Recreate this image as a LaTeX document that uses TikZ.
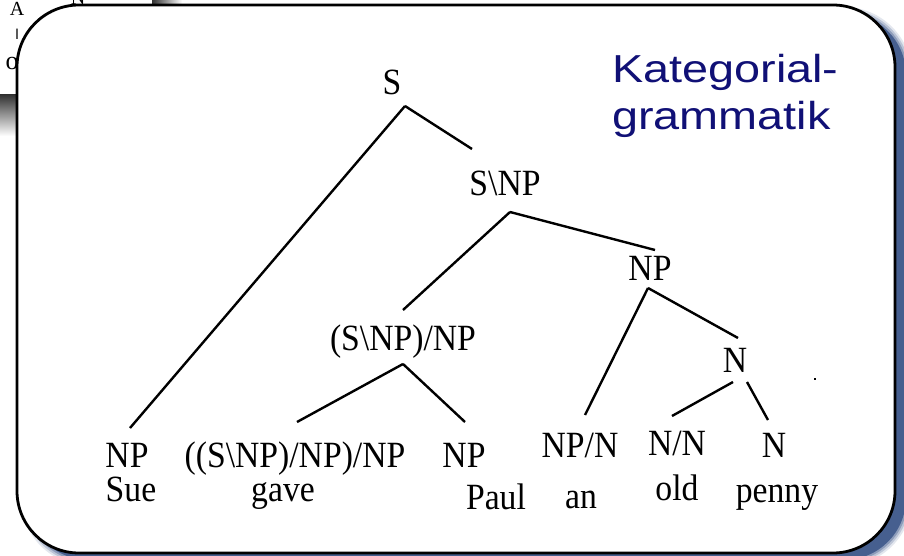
\documentclass[tikz,border=0pt]{standalone}
\usepackage{fontspec}
\setmainfont{Liberation Serif}
\newfontfamily\catfont[FakeStretch=0.91]{Liberation Serif}
\newfontfamily\titlefont[FakeStretch=1.2]{Liberation Sans}
\usetikzlibrary{calc}
\definecolor{titleblue}{RGB}{16,16,118}
\definecolor{shadowblue}{RGB}{70,95,143}

\begin{document}
\begin{tikzpicture}[x=1pt,y=-1pt]
  \tikzstyle{cat}=[inner sep=0pt,anchor=base,font=\catfont\fontsize{37}{40}\selectfont]
  \tikzstyle{word}=[cat]
  \tikzstyle{branch}=[line width=2.4pt]
  \tikzstyle{scrap}=[inner sep=0pt,anchor=base,font=\fontsize{20}{20}\selectfont]
  \useasboundingbox (0,0) rectangle (904,556);
  % pieces of the slide behind
  \shade[top color=black!80,bottom color=white] (0,95) rectangle (17,136);
  \shade[left color=black!80,right color=white] (152,-2) rectangle (182,5);
  \node[scrap] (scrapa) at (17,16) {A};
  \node[scrap] (scrapn) at (78,5) {N};
  \node[scrap,font=\sffamily\fontsize{15}{15}\selectfont] (scrapi) at (17,40) {I};
  \node[scrap,font=\fontsize{26}{26}\selectfont] (scrapo) at (12,70) {o};
  % shadow and card
  \foreach \r/\o in {6/0.15,4/0.25,2/0.4,0/1} {
    \fill[shadowblue,opacity=\o,rounded corners=62+\r]
      (27-\r,13-\r) rectangle (906+\r,560+\r);
  }
  \draw[line width=2.8pt,fill=white,rounded corners=62] (17,5) rectangle (895,553);
  \node[anchor=base west,align=left,text=titleblue,
        font=\titlefont\fontsize{39}{47}\selectfont,inner sep=0pt] (title)
        at (612,130) {Kategorial-\\grammatik};
  % categories
  \node[cat] (s) at (392,95) {S};
  \node[cat] (snp) at (505,195) {S\textbackslash NP};
  \node[cat] (np) at (650,280) {NP};
  \node[cat] (tv) at (403,350) {(S\textbackslash NP)/NP};
  \node[cat] (n) at (735,372) {N};
  \node[cat] (catsue) at (127,467) {NP};
  \node[cat] (catgave) at (295,467) {((S\textbackslash NP)/NP)/NP};
  \node[cat] (catpaul) at (464,467) {NP};
  \node[cat] (catan) at (580,457) {NP/N};
  \node[cat] (catold) at (677,455) {N/N};
  \node[cat] (catpenny) at (774,457) {N};
  % words
  \node[word] (sue) at (131,501) {Sue};
  \node[word] (gave) at (283,501) {gave};
  \node[word] (paul) at (496,509) {Paul};
  \node[word] (an) at (581,508) {an};
  \node[word] (old) at (677,500) {old};
  \node[word] (penny) at (777,502) {penny};
  % branches
  \draw[branch] ($(s.base)+(13,11)$) -- ($(catsue.base)+(3,-39)$);
  \draw[branch] ($(s.base)+(13,11)$) -- ($(snp.base)+(-33,-46)$);
  \draw[branch] ($(snp.base)+(5,17)$) -- ($(tv.base)+(0,-40)$);
  \draw[branch] ($(snp.base)+(5,17)$) -- ($(np.base)+(5,-30)$);
  \draw[branch] ($(np.base)+(-2,8)$) -- ($(catan.base)+(5,-42)$);
  \draw[branch] ($(np.base)+(-2,8)$) -- ($(n.base)+(3,-34)$);
  \draw[branch] ($(tv.base)+(0,14)$) -- ($(catgave.base)+(2,-45)$);
  \draw[branch] ($(tv.base)+(0,14)$) -- ($(catpaul.base)+(1,-45)$);
  \draw[branch] ($(n.base)+(-2,10)$) -- ($(catold.base)+(-5,-39)$);
  \draw[branch] ($(n.base)+(12,10)$) -- ($(catpenny.base)+(-6,-37)$);
  \fill (814,378) rectangle (816,380);
\end{tikzpicture}
\end{document}
